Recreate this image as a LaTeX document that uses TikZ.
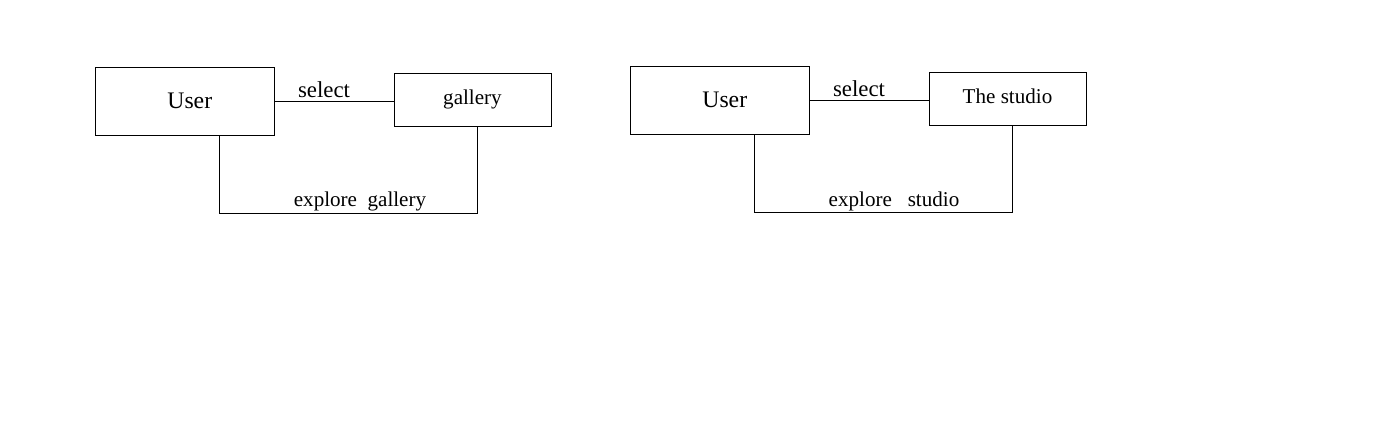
\documentclass[tikz,border=0pt]{standalone}
\usepackage{fontspec}
\setmainfont{Liberation Serif}
\usetikzlibrary{positioning,calc}

\begin{document}
\begin{tikzpicture}[
    x=0.02cm, y=-0.02cm,
    line width=0.5pt,
    actor/.style={rectangle, draw, minimum width=3.58cm, minimum height=1.36cm, font=\fontsize{13.5}{15}\selectfont, inner sep=0pt},
    place/.style={rectangle, draw, minimum width=3.14cm, minimum height=1.06cm, font=\fontsize{12}{14}\selectfont, inner sep=0pt},
    tag/.style={font=\fontsize{12}{14}\selectfont, inner sep=0pt}
]
    \useasboundingbox (0,0) rectangle (1394,430);

    % left diagram
    \node[actor] (user1) at (184.5,101) {\hspace{6pt}User};
    \node[place] (gallery) at (472.5,99.5) {\raisebox{3pt}{gallery}\hspace{4pt}};
    \draw (user1.east) -- (user1.east -| gallery.west);
    \node[tag, font=\fontsize{13}{15}\selectfont] (sel1) at (324,90) {select};
    \coordinate (loop1) at (477,213);
    \draw ([xshift=0.7cm]user1.south) |- (loop1) -- (loop1 |- gallery.south);
    \node[tag] (exp1) at (360,201) {explore\ \ gallery};

    % right diagram
    \node[actor] (user2) at (719.5,100) {\hspace{6pt}User};
    \node[place] (studio) at (1007.5,98.5) {\raisebox{3pt}{The studio}};
    \draw (user2.east) -- (user2.east -| studio.west);
    \node[tag, font=\fontsize{13}{15}\selectfont] (sel2) at (859,89) {select};
    \coordinate (loop2) at (1012,212);
    \draw ([xshift=0.7cm]user2.south) |- (loop2) -- (loop2 |- studio.south);
    \node[tag] (exp2) at (894,201) {explore\ \ \ studio};
\end{tikzpicture}
\end{document}
